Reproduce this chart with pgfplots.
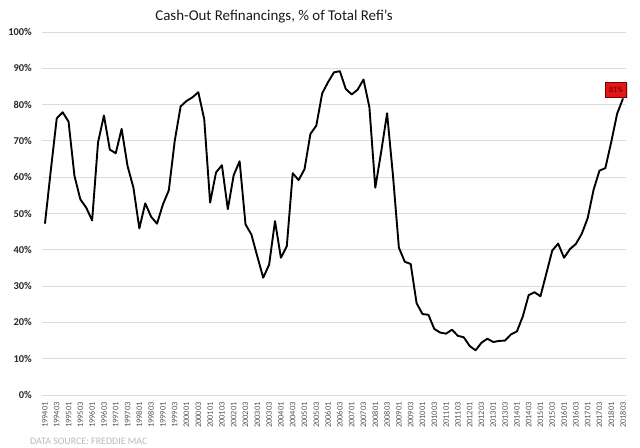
\documentclass[border=0pt]{standalone}
\usepackage{fontspec}
\setmainfont{Carlito}
\usepackage{pgfplots}
\pgfplotsset{compat=1.18}
\usetikzlibrary{shadows}
\definecolor{gridc}{RGB}{220,220,220}
\definecolor{boxred}{RGB}{228,22,22}
\definecolor{boxedge}{RGB}{120,0,0}
\definecolor{boxtext}{RGB}{90,0,0}
\definecolor{srcgray}{RGB}{185,185,185}
\definecolor{xlab}{RGB}{85,85,85}
\pgfplotstableread{
q v
0 47.2
1 62
2 76.2
3 77.9
4 75.3
5 60.4
6 53.9
7 51.6
8 48.1
9 69.6
10 77.0
11 67.6
12 66.6
13 73.3
14 63.1
15 57.1
16 45.9
17 52.8
18 49.1
19 47.2
20 52.5
21 56.4
22 70.0
23 79.5
24 81.0
25 82.0
26 83.4
27 76.0
28 53.0
29 61.3
30 63.3
31 51.2
32 60.6
33 64.4
34 47.0
35 44.2
36 38.2
37 32.3
38 35.9
39 47.9
40 37.8
41 41.0
42 61.1
43 59.2
44 62.2
45 71.9
46 74.2
47 83.1
48 86.2
49 88.9
50 89.2
51 84.3
52 82.8
53 84.1
54 86.9
55 79.3
56 57.1
57 67.0
58 77.6
59 60.4
60 40.6
61 36.7
62 36.1
63 25.3
64 22.3
65 22.1
66 18.2
67 17.2
68 16.9
69 18.0
70 16.3
71 15.9
72 13.5
73 12.3
74 14.4
75 15.5
76 14.6
77 14.9
78 15.0
79 16.7
80 17.5
81 21.6
82 27.5
83 28.3
84 27.2
85 33.5
86 39.8
87 41.7
88 37.8
89 40.2
90 41.6
91 44.4
92 48.7
93 56.5
94 61.8
95 62.5
96 69.7
97 77.5
98 81.7
}\cashout
\begin{document}
\begin{tikzpicture}
\path[use as bounding box] (0,0) rectangle (640bp,448bp);
\begin{axis}[
  at={(42bp,53bp)}, anchor=south west,
  width=584bp, height=363bp, scale only axis,
  xmin=-0.5, xmax=98.5, ymin=0, ymax=100,
  axis line style={draw=none},
  major tick length=0pt,
  ymajorgrids, grid style={color=gridc, line width=0.9bp},
  ytick={0,10,20,30,40,50,60,70,80,90,100},
  yticklabels={0\%,10\%,20\%,30\%,40\%,50\%,60\%,70\%,80\%,90\%,100\%},
  xtick={0,2,...,98},
  xticklabels={199401,199403,199501,199503,199601,199603,199701,199703,199801,199803,199901,199903,200001,200003,200101,200103,200201,200203,200301,200303,200401,200403,200501,200503,200601,200603,200701,200703,200801,200803,200901,200903,201001,201003,201101,201103,201201,201203,201301,201303,201401,201403,201501,201503,201601,201603,201701,201703,201801,201803},
  xticklabel style={rotate=90, anchor=east, inner sep=0pt, font=\fontsize{8.5}{9}\selectfont, text=xlab},
  xticklabel shift=7bp,
  yticklabel style={anchor=east, inner sep=0pt, font=\bfseries\fontsize{10.5}{12}\selectfont, text=black!85},
  yticklabel shift=10bp,
  clip=false,
]
\addplot[black, line width=1.9bp, line join=round] table[x=q, y=v] {\cashout};
\node[fill=boxred, draw=boxedge, line width=0.5bp,
      drop shadow={opacity=0.35, shadow xshift=1bp, shadow yshift=-1bp},
      font=\fontsize{8}{9}\selectfont, text=boxtext,
      inner sep=0pt, minimum width=21bp, minimum height=15bp,
      xshift=-7bp, yshift=9bp] at (axis cs:98,81.7) {81\%};
\end{axis}
\node[font=\fontsize{15}{18}\selectfont, text=black!90] at (274bp,431.5bp) {Cash-Out Refinancings, \% of Total Refi's};
\node[font=\fontsize{10}{12}\selectfont, text=srcgray, anchor=west, inner sep=0pt] at (30bp,6.5bp) {DATA SOURCE: FREDDIE MAC};
\end{tikzpicture}
\end{document}
